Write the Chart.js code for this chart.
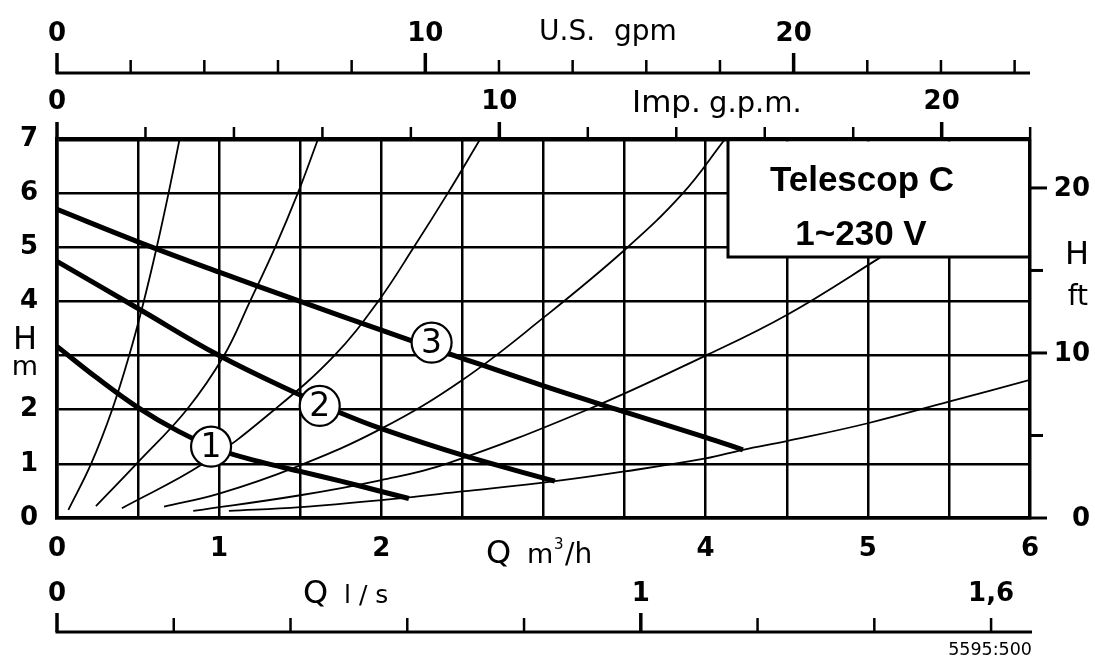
<!DOCTYPE html>
<html>
<head>
<meta charset="utf-8">
<title>Telescop C 1~230 V</title>
<script src="https://cdn.jsdelivr.net/npm/chart.js@4.4.1/dist/chart.umd.min.js"></script>
<style>
  html, body { margin: 0; padding: 0; background: #fff; }
  #wrap { width: 1095px; height: 659px; position: relative; }
</style>
</head>
<body>
<div id="wrap"><canvas id="chart"></canvas></div>
<script>
/* Telescop C 1~230 V — pump curves H(Q) */
(function () {
  'use strict';

  var FONT = '"DejaVu Sans", "Liberation Sans", Arial, sans-serif';
  var TITLE_FONT = '"Liberation Sans", Arial, Helvetica, sans-serif';

  // pump curves (Q m3/h, H m)
  var curve1Q = [0, 0.25, 0.5, 0.75, 1.0, 1.25, 1.5, 1.75, 2.0, 2.17];
  var curve1H = [3.17, 2.58, 2.04, 1.6, 1.26, 1.04, 0.86, 0.68, 0.49, 0.36];
  var curve2Q = [0, 0.5, 1.0, 1.5, 1.75, 2.0, 2.5, 3.07];
  var curve2H = [4.74, 3.87, 3.0, 2.27, 1.94, 1.65, 1.16, 0.68];
  var curve3Q = [0, 0.5, 1.0, 1.5, 2.0, 2.5, 3.0, 3.5, 4.0, 4.23];
  var curve3H = [5.7, 5.1, 4.54, 4.0, 3.47, 2.95, 2.44, 1.96, 1.49, 1.26];

  // system curves (thin)
  var sysAQ = [0.07, 0.21, 0.34, 0.445, 0.535, 0.615, 0.688, 0.756];
  var sysAH = [0.15, 1, 2, 3, 4, 5, 6, 7];
  var sysBQ = [0.24, 0.49, 0.80, 1.03, 1.19, 1.345, 1.485, 1.61];
  var sysBH = [0.22, 1, 2, 3, 4, 5, 6, 7];
  var sysCQ = [0.40, 0.90, 1.34, 1.71, 1.98, 2.20, 2.41, 2.61];
  var sysCH = [0.18, 1, 2, 3, 4, 5, 6, 7];
  var sysDQ = [0.66, 1.0, 1.48, 2.0, 2.5, 3.0, 3.5, 3.86, 4.12];
  var sysDH = [0.21, 0.45, 0.95, 1.65, 2.55, 3.7, 4.95, 6.0, 7.0];
  var sysEQ = [0.84, 1.5, 2.0, 2.4, 3.27, 4.0, 4.5, 5.07, 5.3];
  var sysEH = [0.13, 0.42, 0.7, 1.0, 2.0, 3.0, 3.75, 4.8, 5.25];
  var sysFQ = [1.06, 1.5, 2.0, 2.5, 3.07, 3.5, 4.0, 4.23, 4.5, 5.0, 5.5, 6.0];
  var sysFH = [0.13, 0.2, 0.33, 0.49, 0.68, 0.86, 1.1, 1.26, 1.42, 1.75, 2.15, 2.55];

  // curve number markers
  var markQ = [0.95, 1.62, 2.31];
  var markH = [1.32, 2.07, 3.24];
  var markText = ['1', '2', '3'];

  // main axis labels (3 m3/h and 3 m are replaced by the axis titles)
  var xLabels = [0, 1, 2, 4, 5, 6];
  var yLabels = [0, 1, 2, 4, 5, 6, 7];

  // secondary scales
  var US_GPM = 0.22712, IMP_GPM = 0.27277, L_S = 3.6, FT = 0.3048;
  var usTicks = [0, 2, 4, 6, 8, 10, 12, 14, 16, 18, 20, 22, 24, 26];
  var usLabels = [0, 10, 20];
  var impTicks = [0, 2, 4, 6, 8, 10, 12, 14, 16, 18, 20, 22];
  var impLabels = [0, 10, 20];
  var lsTicks = [0, 0.2, 0.4, 0.6, 0.8, 1.0, 1.2, 1.4, 1.6];
  var lsLabels = [0, 1, 1.6];
  var lsText = ['0', '1', '1,6'];
  var ftTicks = [0, 5, 10, 15, 20];
  var ftLabels = [0, 10, 20];

  function pts(qs, hs) { return qs.map(function (q, i) { return { x: q, y: hs[i] }; }); }

  function pump(qs, hs) {
    return { data: pts(qs, hs), borderColor: '#000', borderWidth: 5, pointRadius: 0,
             tension: 0.4, fill: false, order: 2, borderCapStyle: 'butt' };
  }
  function sys(qs, hs) {
    return { data: pts(qs, hs), borderColor: '#000', borderWidth: 1.8, pointRadius: 0,
             tension: 0.4, fill: false, order: 3 };
  }

  function line(ctx, x1, y1, x2, y2) {
    ctx.beginPath(); ctx.moveTo(x1, y1); ctx.lineTo(x2, y2); ctx.stroke();
  }
  function text(ctx, s, x, y, font, align, base) {
    ctx.font = font; ctx.textAlign = align || 'left'; ctx.textBaseline = base || 'alphabetic';
    ctx.fillText(s, x, y);
  }

  var markerLabels = {
    id: 'markerLabels',
    afterDatasetsDraw: function (chart) {
      var ctx = chart.ctx;
      var meta = chart.getDatasetMeta(0);
      ctx.save();
      ctx.fillStyle = '#000';
      meta.data.forEach(function (p, i) {
        text(ctx, markText[i], p.x, p.y + 1.5, '33px ' + FONT, 'center', 'middle');
      });
      ctx.restore();
    }
  };

  var titleBox = {
    id: 'titleBox',
    afterDatasetsDraw: function (chart) {
      var ctx = chart.ctx, a = chart.chartArea;
      var left = a.right - 302, bottom = a.top + 118;
      ctx.save();
      ctx.fillStyle = '#fff';
      ctx.fillRect(left, a.top + 2.5, a.right - 2 - left, bottom - a.top - 2.5);
      ctx.strokeStyle = '#000'; ctx.lineWidth = 3;
      ctx.beginPath(); ctx.moveTo(left, a.top); ctx.lineTo(left, bottom); ctx.lineTo(a.right, bottom); ctx.stroke();
      ctx.fillStyle = '#000';
      text(ctx, 'Telescop C', left + 134, a.top + 52, 'bold 35px ' + TITLE_FONT, 'center');
      text(ctx, '1~230 V', left + 133, a.top + 106, 'bold 35px ' + TITLE_FONT, 'center');
      ctx.restore();
    }
  };

  var auxAxes = {
    id: 'auxAxes',
    afterDraw: function (chart) {
      var ctx = chart.ctx, a = chart.chartArea, s = chart.scales;
      var bold = 'bold 26px ' + FONT;
      ctx.save();
      ctx.strokeStyle = '#000'; ctx.fillStyle = '#000';

      // U.S. gpm
      var yUS = 73;
      ctx.lineWidth = 3;
      line(ctx, a.left - 1.5, yUS, a.right, yUS);
      usTicks.forEach(function (v) {
        var x = s.xUS.getPixelForValue(v);
        var major = v % 10 === 0;
        ctx.lineWidth = major ? 3.5 : 2.5;
        line(ctx, x, yUS, x, yUS - (major ? 20 : 13));
      });
      usLabels.forEach(function (v) {
        text(ctx, String(v), s.xUS.getPixelForValue(v), 34, bold, 'center', 'middle');
      });
      text(ctx, 'U.S.', 539, 40, '28px ' + FONT);
      text(ctx, 'gpm', 614, 40, '28px ' + FONT);

      // Imp. g.p.m. (on the top frame)
      impTicks.forEach(function (v) {
        var x = s.xImp.getPixelForValue(v);
        var major = v % 10 === 0;
        ctx.lineWidth = major ? 3.5 : 2.5;
        line(ctx, x, a.top, x, a.top - (major ? 17 : 12));
      });
      impLabels.forEach(function (v) {
        text(ctx, String(v), s.xImp.getPixelForValue(v), 102, bold, 'center', 'middle');
      });
      text(ctx, 'Imp.', 632, 112, '31px ' + FONT);
      text(ctx, 'g.p.m.', 709, 112, '29px ' + FONT);

      // l/s
      var yLs = 632;
      ctx.lineWidth = 3;
      line(ctx, a.left - 1.5, yLs, a.right + 2, yLs);
      lsTicks.forEach(function (v) {
        var x = s.xLs.getPixelForValue(v);
        var major = Math.abs(v - Math.round(v)) < 1e-6;
        ctx.lineWidth = major ? 3.5 : 2.5;
        line(ctx, x, yLs, x, yLs - (major ? 19 : 14));
      });
      lsLabels.forEach(function (v, i) {
        text(ctx, lsText[i], s.xLs.getPixelForValue(v), 594, bold, 'center', 'middle');
      });
      text(ctx, 'Q', 303, 603, '32px ' + FONT);
      text(ctx, 'l / s', 344, 603, '25px ' + FONT);

      // H ft (right)
      ftTicks.forEach(function (v) {
        var y = s.yFt.getPixelForValue(v);
        var major = v % 10 === 0;
        ctx.lineWidth = 3;
        line(ctx, a.right, y, a.right + (major ? 17 : 13), y);
      });
      ftLabels.forEach(function (v) {
        text(ctx, String(v), 1090, s.yFt.getPixelForValue(v) + 1, bold, 'right', 'middle');
      });
      text(ctx, 'H', 1089, 256, '32px ' + FONT, 'right', 'middle');
      text(ctx, 'ft', 1088, 298, '28px ' + FONT, 'right', 'middle');

      // main axis titles
      text(ctx, 'H', 25, 341, '32px ' + FONT, 'center', 'middle');
      text(ctx, 'm', 25, 368, '27px ' + FONT, 'center', 'middle');
      text(ctx, 'Q', 486, 563, '32px ' + FONT);
      text(ctx, 'm', 527, 563, '27px ' + FONT);
      text(ctx, '3', 554, 549, '15px ' + FONT);
      text(ctx, '/h', 565, 563, '28px ' + FONT);

      text(ctx, '5595:500', 1032, 655, '17.5px ' + FONT, 'right');
      ctx.restore();
    }
  };

  var datasets = [
    { type: 'scatter', data: pts(markQ, markH), showLine: false, pointRadius: 20, pointHoverRadius: 20,
      pointBackgroundColor: '#fff', pointBorderColor: '#000', pointBorderWidth: 2.2, order: 0 },
    pump(curve1Q, curve1H), pump(curve2Q, curve2H), pump(curve3Q, curve3H),
    sys(sysAQ, sysAH), sys(sysBQ, sysBH), sys(sysCQ, sysCH),
    sys(sysDQ, sysDH), sys(sysEQ, sysEH), sys(sysFQ, sysFH)
  ];

  new Chart(document.getElementById('chart').getContext('2d'), {
    type: 'line',
    data: { datasets: datasets },
    options: {
      responsive: true, maintainAspectRatio: false, animation: false,
      layout: { padding: { top: 139, right: 65, bottom: 91, left: 0 } },
      plugins: { legend: { display: false }, tooltip: { enabled: false } },
      events: [],
      scales: {
        x: {
          type: 'linear', min: 0, max: 6, position: 'bottom',
          ticks: { stepSize: 0.5, autoSkip: false, maxRotation: 0, padding: 16, color: '#000',
                   font: { family: FONT, size: 26, weight: 'bold' },
                   callback: function (v) { return xLabels.indexOf(v) >= 0 ? String(v) : ''; } },
          grid: { color: '#000', drawTicks: false,
                  lineWidth: function (c) { return c.tick && c.tick.value === 6 ? 3.5 : 2.5; } },
          border: { color: '#000', width: 3.5 },
          afterFit: function (sc) { sc.height = 50; }
        },
        y: {
          type: 'linear', min: 0, max: 7, position: 'left',
          ticks: { stepSize: 1, autoSkip: false, padding: 19, color: '#000',
                   font: { family: FONT, size: 26, weight: 'bold' },
                   callback: function (v) { return yLabels.indexOf(v) >= 0 ? String(v) : ''; } },
          grid: { color: '#000', drawTicks: false,
                  lineWidth: function (c) { return c.tick && c.tick.value === 7 ? 4.5 : 2.5; } },
          border: { color: '#000', width: 3.5 },
          afterFit: function (sc) { sc.width = 57; }
        },
        xUS: { type: 'linear', display: false, min: 0, max: 6 / US_GPM },
        xImp: { type: 'linear', display: false, min: 0, max: 6 / IMP_GPM },
        xLs: { type: 'linear', display: false, position: 'bottom', min: 0, max: 6 / L_S },
        yFt: { type: 'linear', display: false, position: 'right', min: 0, max: 7 / FT }
      }
    },
    plugins: [markerLabels, titleBox, auxAxes]
  });
})();
</script>
</body>
</html>
